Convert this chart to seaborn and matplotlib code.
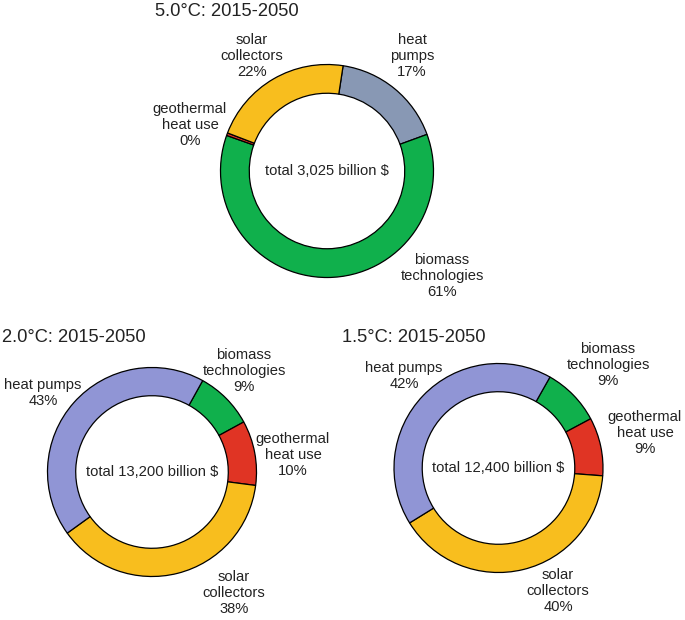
import matplotlib
matplotlib.use("Agg")
import matplotlib.pyplot as plt
import seaborn as sns

# chart data (shares in %, clockwise order starting at the first wedge)
top_title = "5.0°C: 2015-2050"
top_labels = ["heat\npumps", "biomass\ntechnologies", "geothermal\nheat use", "solar\ncollectors"]
top_values = [17.0, 61.0, 0.4, 21.6]
top_total = "total 3,025 billion $"

left_title = "2.0°C: 2015-2050"
left_labels = ["biomass\ntechnologies", "geothermal\nheat use", "solar\ncollectors", "heat pumps"]
left_values = [9, 10, 38, 43]
left_total = "total 13,200 billion $"

right_title = "1.5°C: 2015-2050"
right_labels = ["biomass\ntechnologies", "geothermal\nheat use", "solar\ncollectors", "heat pumps"]
right_values = [9, 9, 40, 42]
right_total = "total 12,400 billion $"

GREEN, YELLOW, RED = "#10B04C", "#F8BE1E", "#E03424"
top_colors = sns.color_palette(["#8898B4", GREEN, RED, YELLOW])
bottom_colors = sns.color_palette([GREEN, RED, YELLOW, "#9095D5"])

sns.set_style("white")
plt.rcParams["font.family"] = ["Liberation Sans", "DejaVu Sans"]

W, H = 685, 620
fig = plt.figure(figsize=(W / 100, H / 100), dpi=100)
ax = fig.add_axes([0, 0, 1, 1])


def donut(ax, values, labels, colors, total, title, center, radius, start,
          label_pos, title_pos):
    """Draw one ring chart in pixel coordinates (y measured from the top)."""
    cx, cy = center[0], H - center[1]
    ax.pie(values, colors=colors, center=(cx, cy), radius=radius,
           startangle=start, counterclock=False,
           wedgeprops=dict(width=radius * 0.27, edgecolor="black", linewidth=0.9))
    for lab, val, (lx, ly) in zip(labels, values, label_pos):
        ax.text(lx, H - ly, f"{lab}\n{round(val):.0f}%", ha="center", va="center",
                fontsize=10.6, color="#222222", linespacing=1.15)
    ax.text(cx, cy, total, ha="center", va="center", fontsize=10.6, color="#222222")
    ax.text(title_pos[0], H - title_pos[1], title, ha="left", va="center",
            fontsize=13.2, color="#222222")


donut(ax, top_values, top_labels, top_colors, top_total, top_title,
      center=(327, 171), radius=106.5, start=81.3,
      label_pos=[(412, 56), (442, 276), (190, 125), (252, 56)],
      title_pos=(155, 11))

donut(ax, left_values, left_labels, bottom_colors, left_total, left_title,
      center=(152, 472), radius=104.5, start=61,
      label_pos=[(244, 371), (293, 455), (234, 593), (43, 393)],
      title_pos=(2, 338))

donut(ax, right_values, right_labels, bottom_colors, right_total, right_title,
      center=(498.5, 468), radius=104.5, start=60.5,
      label_pos=[(608, 365), (645, 433), (558, 591), (404, 376)],
      title_pos=(342, 337))

ax.set_xlim(0, W)
ax.set_ylim(0, H)
ax.set_aspect("equal")
ax.axis("off")

fig.savefig("out.png", dpi=100, facecolor="white")
